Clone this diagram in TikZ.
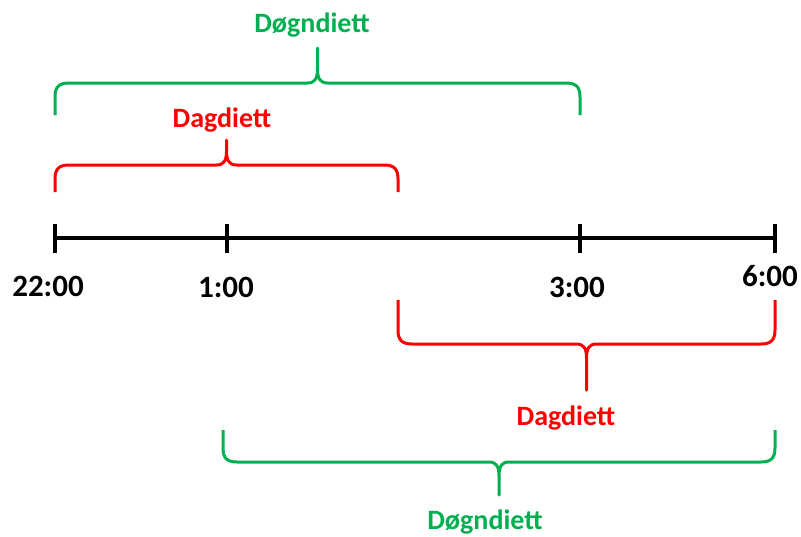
\documentclass[tikz,border=0pt]{standalone}
\usepackage{fontspec}
\setmainfont{Carlito}
\definecolor{dgreen}{RGB}{0,176,80}
\definecolor{dred}{RGB}{255,0,0}
% #1 colour, #2 left x, #3 right x, #4 end y, #5 bar y, #6 tip y
\newcommand{\dietbrace}[6]{%
  \pgfmathsetmacro{\bmid}{(#2+#3)/2}%
  \pgfmathsetmacro{\bdir}{sign(#4-#5)}%
  \draw[brace,#1] (#2,#4) -- (#2,#5+14*\bdir)
    .. controls (#2,#5+4*\bdir) and (#2+4,#5) .. (#2+14,#5)
    -- (\bmid-10,#5) .. controls (\bmid-3,#5) and (\bmid,#5-4*\bdir) .. (\bmid,#5-14*\bdir)
    -- (\bmid,#6) -- (\bmid,#5-14*\bdir)
    .. controls (\bmid,#5-4*\bdir) and (\bmid+3,#5) .. (\bmid+10,#5)
    -- (#3-14,#5) .. controls (#3-4,#5) and (#3,#5+4*\bdir) .. (#3,#5+14*\bdir)
    -- (#3,#4);%
}
\begin{document}
\begin{tikzpicture}[x=1pt,y=-1pt,
  brace/.style={line width=3pt,line join=round},
  timeline/.style={line width=4pt},
  lbl/.style={font=\fontsize{28}{30}\selectfont\bfseries,inner sep=0pt,anchor=base},
  time/.style={lbl,font=\fontsize{31}{33}\selectfont\bfseries}]
\useasboundingbox (0,0) rectangle (801,536);
\coordinate[] (T22) at (55,238);
\coordinate[] (T1) at (227,238);
\coordinate[] (T3) at (580,238);
\coordinate[] (T6) at (775,238);
\draw [timeline] (T22) -- (T6);
\foreach \t in {T22,T1,T3,T6}
	\draw [timeline] (\t) ++(0,-14) -- ++(0,29);
\node[time] (L22) at (48,296) {22:00};
\node[time] (L1) at (226,297) {1:00};
\node[time] (L3) at (577,297) {3:00};
\node[time] (L6) at (770,286) {6:00};
\dietbrace{dgreen}{55}{580}{115}{83}{48}
\dietbrace{dred}{55}{398}{192}{165}{140}
\dietbrace{dred}{398}{775}{300}{344}{390}
\dietbrace{dgreen}{223}{775}{430}{462}{495}
\node[lbl,dgreen] (DognTop) at (312,32) {Døgndiett};
\node[lbl,dred] (DagTop) at (222,127) {Dagdiett};
\node[lbl,dred] (DagBot) at (566,425) {Dagdiett};
\node[lbl,dgreen] (DognBot) at (485,529) {Døgndiett};
\end{tikzpicture}
\end{document}
